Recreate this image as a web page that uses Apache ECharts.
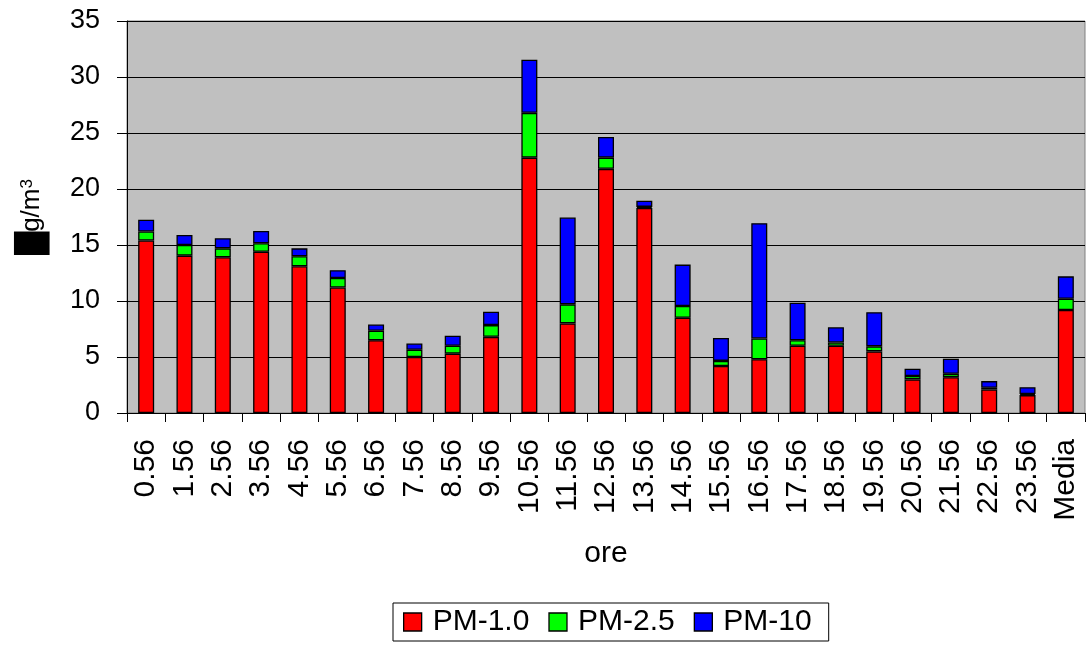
<!DOCTYPE html>
<html><head><meta charset="utf-8">
<script src="https://cdn.jsdelivr.net/npm/echarts@6/dist/echarts.min.js"></script>
<style>html,body{margin:0;padding:0;background:#fff}#c{width:1087px;height:647px}</style>
</head><body><div id="c"></div>
<script>
const categories = ['0.56','1.56','2.56','3.56','4.56','5.56','6.56','7.56','8.56','9.56','10.56','11.56','12.56','13.56','14.56','15.56','16.56','17.56','18.56','19.56','20.56','21.56','22.56','23.56','Media'];
const pm10 = [15.4,14.05,13.9,14.4,13.1,11.2,6.5,5.0,5.3,6.8,22.8,8.0,21.8,18.3,8.5,4.2,4.8,6.0,6.0,5.5,3.0,3.2,2.1,1.6,9.2];
const pm25 = [0.8,0.95,0.8,0.75,0.9,0.85,0.85,0.65,0.7,1.05,4.0,1.7,1.0,0.1,1.05,0.45,1.85,0.5,0.3,0.45,0.3,0.3,0.15,0.1,1.0];
const pm100 = [1.05,0.9,0.9,1.1,0.7,0.7,0.55,0.55,0.9,1.2,4.75,7.75,1.85,0.55,3.7,2.05,10.3,3.35,1.35,3.05,0.65,1.35,0.6,0.6,2.0];
const seriesNames = ['PM-1.0','PM-2.5','PM-10'];
const yTicks = {min:0, max:35, interval:5};

const font = 'Liberation Sans, Arial, sans-serif';
const colors = ['#ff0000','#00ff00','#0000ff'];
const chart = echarts.init(document.getElementById('c'));
const mk = (name, data, color) => ({
  name, type:'bar', stack:'s', data, barWidth:16,
  itemStyle:{color, borderColor:'#000', borderWidth:1.3}
});
chart.setOption({
  animation:false,
  textStyle:{fontFamily:font},
  grid:{left:127, right:2, top:21, bottom:234, show:true, backgroundColor:'#c0c0c0', borderColor:'#808080', borderWidth:1},
  xAxis:{
    type:'category', data:categories,
    name:'ore', nameLocation:'middle', nameGap:126,
    nameTextStyle:{fontSize:30, color:'#000', fontFamily:font},
    axisLine:{lineStyle:{color:'#000'}},
    axisTick:{show:true, length:9, lineStyle:{color:'#000'}},
    axisLabel:{rotate:90, fontSize:30, color:'#000', margin:26, fontFamily:font, interval:0}
  },
  yAxis:{
    type:'value', min:yTicks.min, max:yTicks.max, interval:yTicks.interval,
    name:'{b|█}{t|g/m}{s|3}', nameLocation:'middle', nameRotate:90, nameGap:78,
    nameTextStyle:{
      rich:{
        b:{color:'#000', fontSize:30, fontFamily:'DejaVu Sans', verticalAlign:'middle'},
        t:{fontSize:26, color:'#000', fontFamily:font, verticalAlign:'top'},
        s:{fontSize:17, color:'#000', fontFamily:font, verticalAlign:'top'}
      }
    },
    axisLine:{show:true, lineStyle:{color:'#000'}},
    axisTick:{show:true, length:10, lineStyle:{color:'#000'}},
    axisLabel:{fontSize:27, color:'#000', margin:27, fontFamily:font},
    splitLine:{lineStyle:{color:'#000', width:1}}
  },
  legend:{
    top:603, left:393, data:seriesNames,
    icon:'rect', itemWidth:18, itemHeight:18, itemGap:19,
    borderColor:'#000', borderWidth:1, padding:[4,17,4,10],
    textStyle:{fontSize:30, color:'#000', fontFamily:font, padding:[0,0,0,6]},
    itemStyle:{borderColor:'#000', borderWidth:1.3}
  },
  series:[mk(seriesNames[0], pm10, colors[0]), mk(seriesNames[1], pm25, colors[1]), mk(seriesNames[2], pm100, colors[2])]
});
</script>
</body></html>
